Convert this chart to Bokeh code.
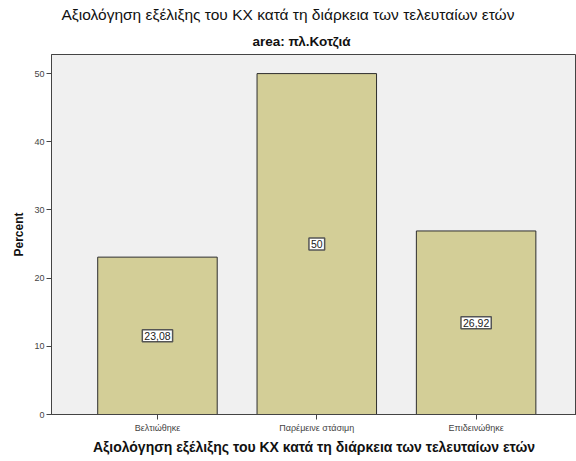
from bokeh.plotting import figure
from bokeh.models import ColumnDataSource, Range1d, FixedTicker, Label, Title
from bokeh.embed import file_html
from bokeh.resources import INLINE

# Assessment of the development of the KX over recent years (area: πλ.Κοτζιά)
categories = ["Βελτιώθηκε", "Παρέμεινε στάσιμη", "Επιδεινώθηκε"]
percent = [23.08, 50.0, 26.92]
value_labels = ["23,08", "50", "26,92"]
y_ticks = [0, 10, 20, 30, 40, 50]

FONT = "Liberation Sans"
TITLE = "Αξιολόγηση εξέλιξης του ΚΧ κατά τη διάρκεια των τελευταίων ετών"

xs = list(range(1, len(categories) + 1))
src = ColumnDataSource(dict(x=xs, top=percent))

p = figure(
    width=576, height=461,
    x_range=Range1d(0.335, 3.63),
    y_range=Range1d(0, 52.8),
    output_backend="svg", toolbar_location=None,
    min_border_left=51, min_border_right=0,
    min_border_top=54, min_border_bottom=47,
)

p.background_fill_color = "#f0f0f0"
p.border_fill_color = "white"
p.outline_line_color = "#444444"
p.outline_line_width = 1
p.xgrid.grid_line_color = None
p.ygrid.grid_line_color = None

p.vbar(x="x", top="top", width=0.75, source=src,
       fill_color="#d3ce97", line_color="#2e2e2e", line_width=1)

# boxed value labels at half bar height
for x, v, txt in zip(xs, percent, value_labels):
    p.add_layout(Label(
        x=x, y=v / 2, text=txt,
        text_align="center", text_baseline="middle",
        text_font=FONT, text_font_size="10.5px", text_color="#222222",
        background_fill_color="white",
        border_line_color="#555555", border_line_width=1.5,
        padding=2,
    ))

# y axis
p.yaxis.ticker = FixedTicker(ticks=y_ticks)
p.yaxis.minor_tick_line_color = None
p.yaxis.major_tick_in = 0
p.yaxis.major_tick_out = 5
p.yaxis.axis_line_color = "#444444"
p.yaxis.major_tick_line_color = "#444444"
p.yaxis.major_label_text_font = FONT
p.yaxis.major_label_text_font_size = "9px"
p.yaxis.major_label_text_color = "#444444"
p.yaxis.major_label_standoff = 2
p.yaxis.axis_label = "Percent"
p.yaxis.axis_label_text_font = FONT
p.yaxis.axis_label_text_font_size = "12px"
p.yaxis.axis_label_text_font_style = "bold"
p.yaxis.axis_label_text_color = "#111111"
p.yaxis.axis_label_standoff = 5

# x axis
p.xaxis.ticker = FixedTicker(ticks=xs)
p.xaxis.major_label_overrides = {x: c for x, c in zip(xs, categories)}
p.xaxis.minor_tick_line_color = None
p.xaxis.major_tick_in = 0
p.xaxis.major_tick_out = 5
p.xaxis.axis_line_color = "#444444"
p.xaxis.major_tick_line_color = "#444444"
p.xaxis.major_label_text_font = FONT
p.xaxis.major_label_text_font_size = "9px"
p.xaxis.major_label_text_color = "#444444"
p.xaxis.major_label_standoff = 3
p.xaxis.axis_label = TITLE
p.xaxis.axis_label_text_font = FONT
p.xaxis.axis_label_text_font_size = "14px"
p.xaxis.axis_label_text_font_style = "bold"
p.xaxis.axis_label_text_color = "#111111"
p.xaxis.axis_label_standoff = 3

# titles (left aligned, shifted from the frame's left edge)
sub = Title(text="area: πλ.Κοτζιά", align="left", text_font=FONT,
            text_font_size="13.5px", text_font_style="bold", text_color="#111111",
            offset=201, standoff=12)
main = Title(text=TITLE, align="left", text_font=FONT,
             text_font_size="15.5px", text_font_style="normal", text_color="#111111",
             offset=10, standoff=5)
p.add_layout(sub, "above")
p.add_layout(main, "above")

open("out.html", "w").write(file_html(p, INLINE))
